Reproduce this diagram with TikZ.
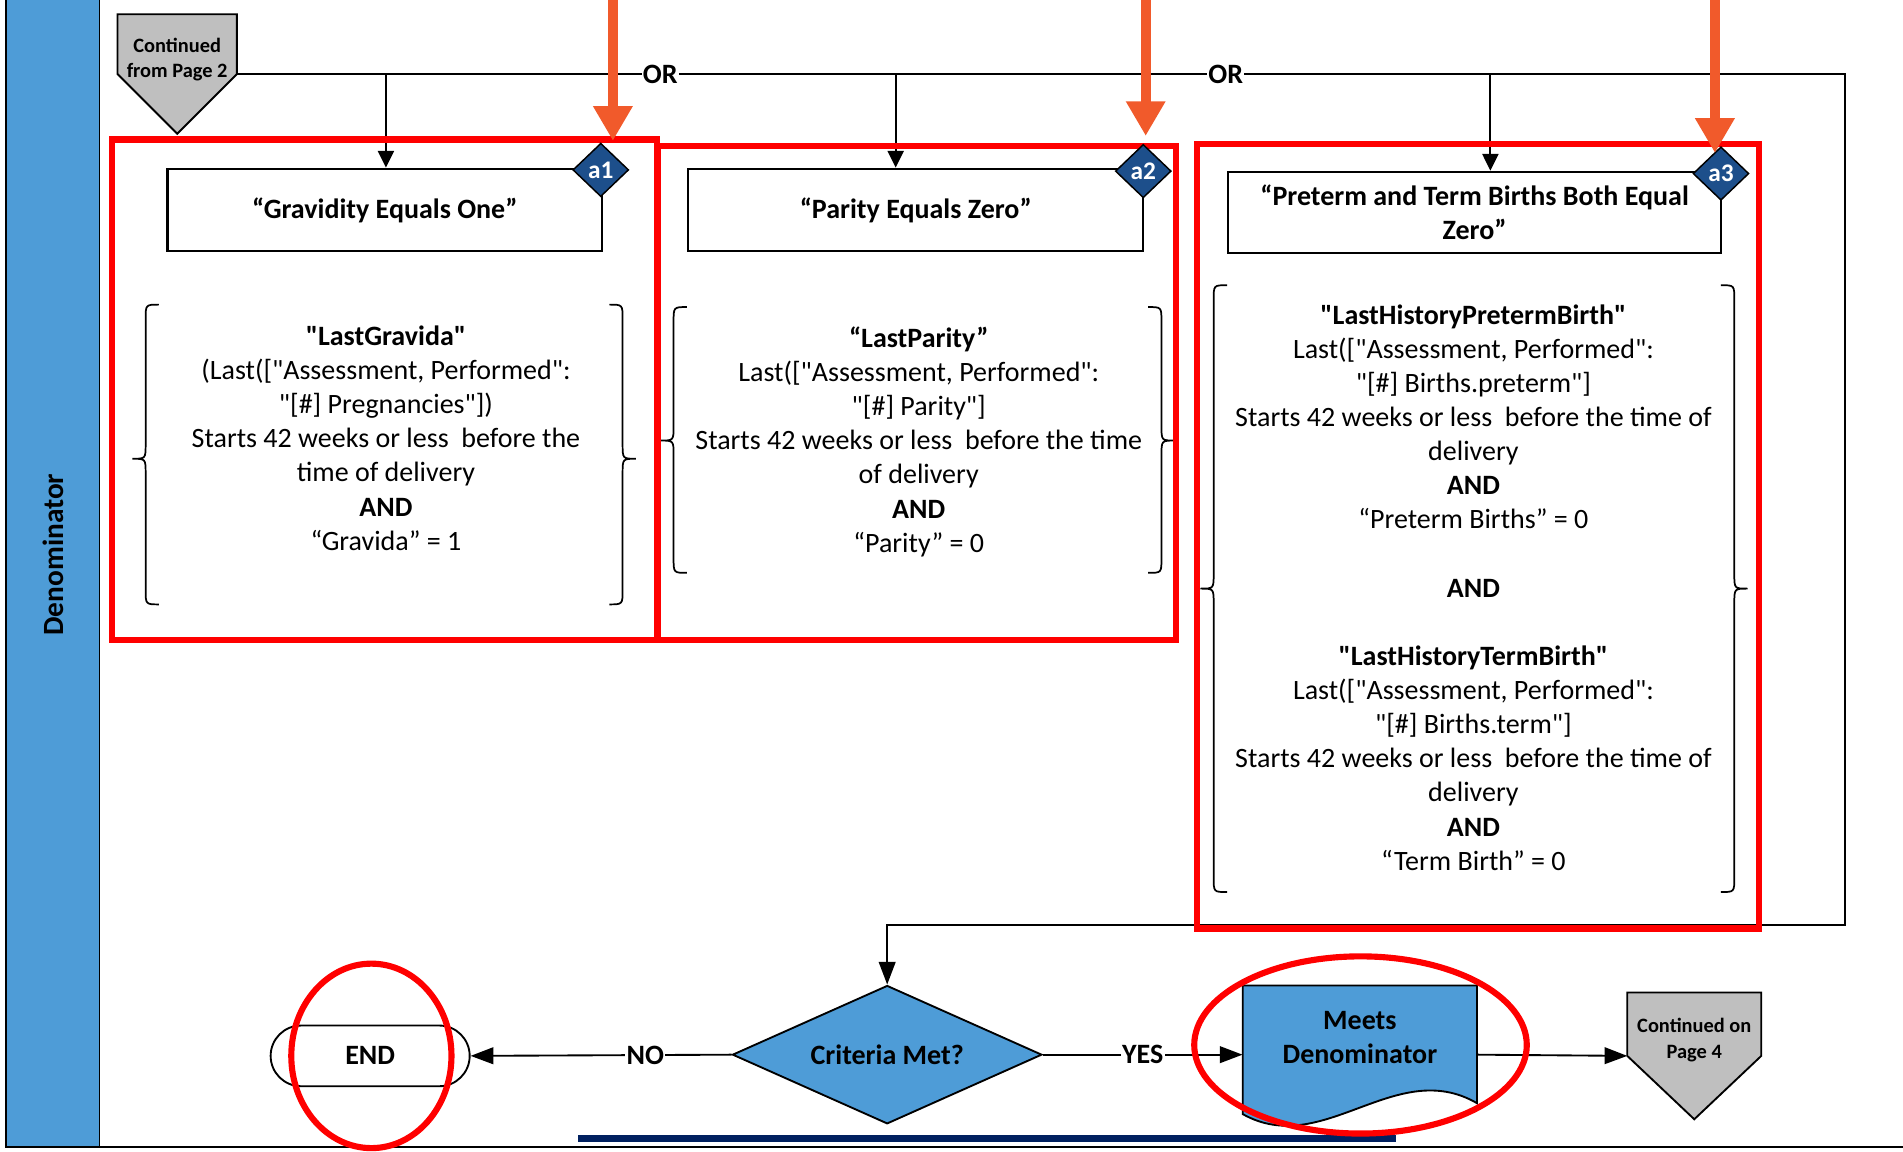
\documentclass[tikz,border=0pt]{standalone}
\usepackage{fontspec}
\setmainfont{Carlito}[Ligatures=TeXOff]
\usetikzlibrary{arrows.meta,shapes.geometric,shapes.misc,calc}
\definecolor{laneblue}{HTML}{4E9CD7}
\definecolor{tagnavy}{HTML}{1D4F8B}
\definecolor{pgray}{HTML}{BFBFBF}
\definecolor{annred}{HTML}{FF0000}
\definecolor{annorange}{HTML}{F15A2B}
\definecolor{barnavy}{HTML}{002060}
\newcommand\pxu{0.9102pt}
\newcommand\LBr[4]{%
 \draw[brace] ({#1+22},#2) .. controls ({#1+11},#2) .. ({#1+11},{#2+12}) -- ({#1+11},{#3-12}) .. controls ({#1+11},#3) .. (#1,#3) .. controls ({#1+11},#3) .. ({#1+11},{#3+12}) -- ({#1+11},{#4-12}) .. controls ({#1+11},#4) .. ({#1+22},#4);}
\newcommand\RBr[4]{%
 \draw[brace] ({#1-22},#2) .. controls ({#1-11},#2) .. ({#1-11},{#2+12}) -- ({#1-11},{#3-12}) .. controls ({#1-11},#3) .. (#1,#3) .. controls ({#1-11},#3) .. ({#1-11},{#3+12}) -- ({#1-11},{#4-12}) .. controls ({#1-11},#4) .. ({#1-22},#4);}
\tikzset{
 ln/.style={line width=1.4pt, draw=black},
 arr/.style={ln, -{Triangle[length=12.5pt,width=12pt]}},
 arrb/.style={ln, -{Triangle[length=17pt,width=12.5pt]}},
 titlebox/.style={draw, line width=1.6pt, fill=white, font=\fontsize{21}{25.6}\selectfont\bfseries, align=center, inner sep=0pt},
 tagdia/.style={diamond, draw=black, line width=1.1pt, fill=tagnavy, text=white, font=\fontsize{19}{22}\selectfont\bfseries, inner sep=0pt, minimum width=46*\pxu, minimum height=44*\pxu},
 body/.style={font=\fontsize{21}{25.6}\selectfont, align=center, inner sep=0pt},
 small/.style={font=\fontsize{15.3}{19}\selectfont\bfseries, align=center, inner sep=0pt},
 redbox/.style={draw=annred, line width=4.6pt},
 orarrow/.style={draw=annorange, line width=7.5pt, -{Triangle[length=26pt,width=28pt]}},
 lbl/.style={fill=white, font=\fontsize{21}{25}\selectfont\bfseries, inner sep=1pt},
 brace/.style={line width=1.3pt},
}
\begin{document}
\begin{tikzpicture}[x=\pxu,y=-\pxu]
\useasboundingbox (0,0) rectangle (1568,949);
% swimlane
\fill[laneblue] (5,0) rectangle (82,945);
\draw[ln] (5,0) -- (5,945) -- (1568,945);
\draw[ln] (82,0) -- (82,945);
\node[rotate=90, font=\fontsize{22}{26}\selectfont\bfseries] (lane) at (44,457) {Denominator};
% navy bar
\fill[barnavy] (476,935) rectangle (1150,941);

% continued from page 2
\node[minimum width=98*\pxu, minimum height=98*\pxu, inner sep=0pt] (cfp2) at (146,61) {};
\filldraw[fill=pgray, ln] (cfp2.north west) -- (cfp2.north east) -- (cfp2.east) -- (cfp2.south) -- (cfp2.west) -- cycle;
\node[small] (cfp2t) at (146,49) {Continued\\from Page 2};

% title boxes
\node[titlebox, minimum width=358*\pxu, minimum height=68*\pxu] (t1) at (317,173) {“Gravidity Equals One”};
\node[titlebox, minimum width=375*\pxu, minimum height=68*\pxu] (t2) at (754.5,173) {“Parity Equals Zero”};
\node[titlebox, minimum width=406*\pxu, minimum height=67*\pxu] (t3) at (1215,175) {“Preterm and Term Births Both Equal\\Zero”};

% top connector
\coordinate (topR) at (1520,61);
\coordinate (botR) at (1520,762);
\coordinate (b1) at (318,61);
\coordinate (b2) at (738,61);
\coordinate (b3) at (1228,61);

% decision etc.
\node[diamond, shape aspect=2.237, draw=black, line width=1.4pt, fill=laneblue, minimum width=255*\pxu, minimum height=114*\pxu, inner sep=0pt, font=\fontsize{21}{25}\selectfont\bfseries] (crit) at (731,869) {Criteria Met?};
\node[rounded rectangle, draw=black, line width=1.4pt, minimum width=164*\pxu, minimum height=50*\pxu, inner sep=0pt, font=\fontsize{21}{25}\selectfont\bfseries] (endN) at (305,870) {END};
\node[minimum width=193*\pxu, minimum height=114*\pxu, inner sep=0pt] (meets) at (1120.5,869) {};
\filldraw[fill=laneblue, ln] (1024,812) -- (1217,812) -- (1217,909) .. controls (1150,870) and (1090,955) .. (1024,918) -- cycle;
\node[font=\fontsize{21}{25.6}\selectfont\bfseries, align=center, inner sep=0pt] (meetsT) at (1120.5,855) {Meets\\Denominator};
\node[minimum width=110*\pxu, minimum height=104*\pxu, inner sep=0pt] (cp4) at (1396,870) {};
\filldraw[fill=pgray, ln] (cp4.north west) -- (cp4.north east) -- (cp4.east) -- (cp4.south) -- (cp4.west) -- cycle;
\node[small] (cp4t) at (1396,857) {Continued on\\Page 4};

% connectors
\draw[arrb] (cfp2.east) -- (topR) -- (botR) -| (crit.north);
\draw[arr] (b1) -- (b1 |- t1.north);
\draw[arr] (b2) -- (b2 |- t2.north);
\draw[arr] (b3) -- (b3 |- t3.north);
\node[lbl] (or1) at (544,61) {OR};
\node[lbl] (or2) at (1010,61) {OR};
\draw[arrb] (crit.west) -- node[lbl, pos=0.33] (no) {NO} (endN.east);
\draw[arrb] (crit.east) -- node[lbl, pos=0.5] (yes) {YES} (meets.west);
\draw[arrb] (meets.east) -- (cp4.west);

% body text
\node[body] (x1) at (318,361) {\textbf{"LastGravida"}\\(Last(["Assessment, Performed":\\"[\#] Pregnancies"])\\Starts 42 weeks or less~ before the\\time of delivery\\\textbf{AND}\\“Gravida” = 1};
\node[body] (x2) at (757,364) {\textbf{“LastParity”}\\Last(["Assessment, Performed":\\"[\#] Parity"]\\Starts 42 weeks or less~ before the time\\of delivery\\\textbf{AND}\\“Parity” = 0};
\node[body] (x3) at (1214,484) {\textbf{"LastHistoryPretermBirth"}\\Last(["Assessment, Performed":\\"[\#] Births.preterm"]\\Starts 42 weeks or less~ before the time of\\delivery\\\textbf{AND}\\“Preterm Births” = 0\\\mbox{}\\\textbf{AND}\\\mbox{}\\\textbf{"LastHistoryTermBirth"}\\Last(["Assessment, Performed":\\"[\#] Births.term"]\\Starts 42 weeks or less~ before the time of\\delivery\\\textbf{AND}\\“Term Birth” = 0};

% braces
\LBr{109}{251}{378}{498}
\RBr{524}{251}{378}{498}
\LBr{544}{253}{363}{472}
\RBr{968}{253}{363}{472}
\LBr{989}{235}{485}{735}
\RBr{1440}{235}{485}{735}

% red annotation boxes
\draw[redbox] (92,115) rectangle (541,527);
\draw[redbox] (542,120) rectangle (969,527);
\draw[redbox] (986,119) rectangle (1449,765);

% tags
\node[tagdia] (a1) at (495,140) {a1};
\node[tagdia] (a2) at (942,141) {a2};
\node[tagdia] (a3) at (1418,143) {a3};

% ellipses
\draw[redbox] (306,870) ellipse [x radius=66, y radius=76];
\draw[redbox] (1121,861) ellipse [x radius=137, y radius=73];

% orange arrows
\draw[orarrow] (505,0) -- (505,116);
\draw[orarrow] (944,0) -- (944,112);
\draw[orarrow] (1413,0) -- (1413,126);
\end{tikzpicture}
\end{document}
